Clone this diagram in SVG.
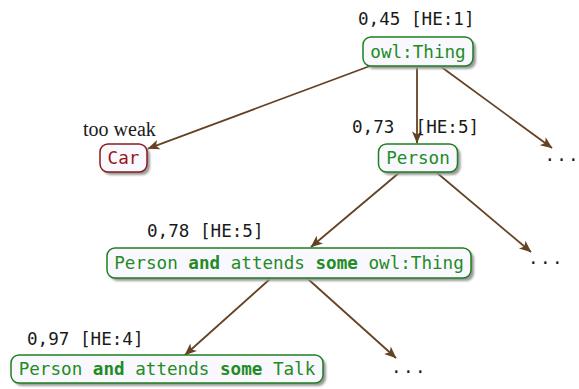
<svg xmlns="http://www.w3.org/2000/svg" width="579" height="389" viewBox="0 0 579 389">
  <style>
    .box { fill: #f8f8fe; stroke-width: 1.5; }
    .ok .box { stroke: #1e7f1e; }
    .weak .box { stroke: #8b1a1a; }
    .label { font-family: "DejaVu Sans Mono", monospace; font-size: 17.6px; }
    .ok .label { fill: #238b23; }
    .weak .label { fill: #9a1515; }
    .score { font-family: "DejaVu Sans Mono", monospace; font-size: 17.6px; fill: #1a1a1a; white-space: pre; }
    .note { font-family: "Liberation Serif", serif; font-size: 20px; fill: #1a1a1a; }
    .dots { font-family: "DejaVu Sans Mono", monospace; font-size: 17.6px; fill: #1a1a1a; }
    .kw { font-weight: bold; }
    .edge { stroke: #654223; stroke-width: 1.8; fill: none; marker-end: url(#arrow); }
  </style>
  <defs>
    <filter id="shadow" x="-10%" y="-20%" width="130%" height="160%">
      <feGaussianBlur stdDeviation="1.3"/>
    </filter>
    <marker id="arrow" markerUnits="userSpaceOnUse" markerWidth="15" markerHeight="13" viewBox="-13 -6.5 15 13" refX="0" refY="0" orient="auto">
      <path d="M0.5,0 L-11.5,-5 L-8.5,0 L-11.5,5 Z" fill="#654223"/>
    </marker>
  </defs>

  <!-- connectors -->
  <g id="edges">
    <line class="edge" x1="370" y1="66" x2="148" y2="148.6"/>
    <line class="edge" x1="417" y1="66" x2="417" y2="143"/>
    <line class="edge" x1="440" y1="66" x2="552" y2="148"/>
    <line class="edge" x1="400" y1="172" x2="311" y2="247"/>
    <line class="edge" x1="436" y1="172" x2="531" y2="252"/>
    <line class="edge" x1="270" y1="279" x2="185" y2="355"/>
    <line class="edge" x1="308" y1="279" x2="396" y2="358"/>
  </g>

  <!-- scores and annotations -->
  <g id="scores">
    <text class="score" x="358" y="25">0,45 [HE:1]</text>
    <text class="score" x="352" y="133">0,73  [HE:5]</text>
    <text class="score" x="147" y="237">0,78 [HE:5]</text>
    <text class="score" x="27" y="345">0,97 [HE:4]</text>
    <text class="note" x="83" y="136">too weak</text>
  </g>

  <g id="owl-thing" class="ok">
    <rect x="366" y="40" width="110" height="29" rx="8" fill="#9a9a9a" filter="url(#shadow)"/>
    <rect class="box" x="363" y="37" width="110" height="29" rx="8"/>
    <text class="label" x="418" y="57.5" text-anchor="middle">owl:Thing</text>
  </g>

  <g id="car" class="weak">
    <rect x="103" y="147" width="47" height="28" rx="8" fill="#9a9a9a" filter="url(#shadow)"/>
    <rect class="box" x="100" y="144" width="47" height="28" rx="8"/>
    <text class="label" x="123.5" y="164" text-anchor="middle">Car</text>
  </g>

  <g id="person" class="ok">
    <rect x="381.5" y="147" width="79" height="28" rx="8" fill="#9a9a9a" filter="url(#shadow)"/>
    <rect class="box" x="378.5" y="144" width="79" height="28" rx="8"/>
    <text class="label" x="418" y="164" text-anchor="middle">Person</text>
  </g>

  <g id="person-attends-thing" class="ok">
    <rect x="110" y="251" width="364" height="30" rx="8" fill="#9a9a9a" filter="url(#shadow)"/>
    <rect class="box" x="107" y="248" width="364" height="30" rx="8"/>
    <text class="label" x="289" y="269" text-anchor="middle">Person <tspan class="kw">and</tspan> attends <tspan class="kw">some</tspan> owl:Thing</text>
  </g>

  <g id="person-attends-talk" class="ok">
    <rect x="14" y="358" width="312" height="28" rx="8" fill="#9a9a9a" filter="url(#shadow)"/>
    <rect class="box" x="11" y="355" width="312" height="28" rx="8"/>
    <text class="label" x="167" y="375" text-anchor="middle">Person <tspan class="kw">and</tspan> attends <tspan class="kw">some</tspan> Talk</text>
  </g>

  <!-- elided children -->
  <g id="more">
    <text class="dots" x="544.5" y="161" dx="0 1.2 1.2">...</text>
    <text class="dots" x="528" y="264" dx="0 1.4 1.4">...</text>
    <text class="dots" x="391" y="373" dx="0 1.4 1.4">...</text>
  </g>
</svg>
